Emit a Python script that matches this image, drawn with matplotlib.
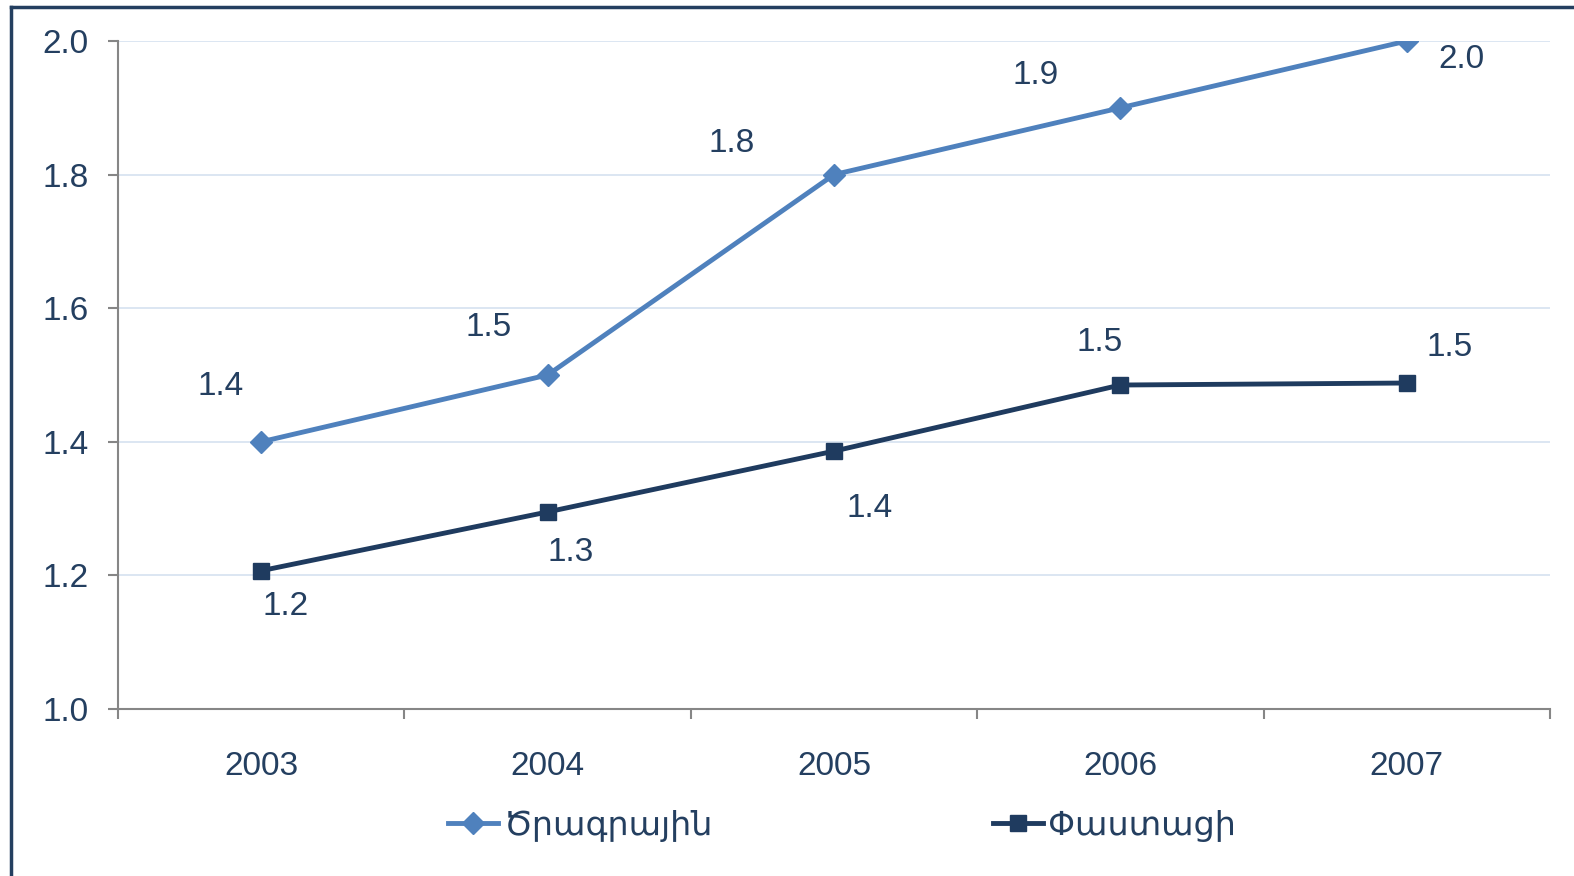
import matplotlib
matplotlib.use('Agg')
from matplotlib import pyplot as plt
from matplotlib.lines import Line2D
import numpy as np

# chart data
years = ['2003', '2004', '2005', '2006', '2007']
planned = [1.4, 1.5, 1.8, 1.9, 2.0]
actual = [1.207, 1.295, 1.386, 1.485, 1.488]
planned_labels = ['1.4', '1.5', '1.8', '1.9', '2.0']
actual_labels = ['1.2', '1.3', '1.4', '1.5', '1.5']
series_names = ['Ծրագրային', 'Փաստացի']

# label offsets in pixels (dx, dy)
planned_offsets = [(-41, 55), (-59, 47), (-102, 31), (-85, 32), (55, -19)]
actual_offsets = [(24, -36), (23, -41), (36, -57), (-21, 43), (43, 36)]

TEXT = '#243F60'
LIGHT = '#4F81BD'
DARK = '#1F3B5F'
FONT = ['Liberation Sans', 'DejaVu Sans']
FS = 24

plt.rcParams['font.family'] = FONT

fig = plt.figure(figsize=(15.74, 8.76), dpi=100)
ax = fig.add_axes([118 / 1574, 1 - 709 / 876, (1550 - 118) / 1574, (709 - 41) / 876])

x = np.arange(len(years))
ax.plot(x, planned, color=LIGHT, lw=3.5, marker='D', ms=11, label=series_names[0])
ax.plot(x, actual, color=DARK, lw=3.5, marker='s', ms=11, label=series_names[1])

for i in x:
    ax.annotate(planned_labels[i], (x[i], planned[i]), xytext=planned_offsets[i],
                textcoords='offset pixels', ha='center', va='center',
                fontsize=FS, color=TEXT)
    ax.annotate(actual_labels[i], (x[i], actual[i]), xytext=actual_offsets[i],
                textcoords='offset pixels', ha='center', va='center',
                fontsize=FS, color=TEXT)

ax.set_xlim(-0.5, len(years) - 0.5)
ax.set_ylim(1.0, 2.0)
ax.set_yticks(np.arange(1.0, 2.01, 0.2))
ax.set_yticklabels([f'{v:.1f}' for v in np.arange(1.0, 2.01, 0.2)])
ax.set_xticks(x)
ax.set_xticklabels(years)
ax.set_xticks(np.arange(-0.5, len(years)), minor=True)

ax.tick_params(axis='x', which='major', length=0, pad=30, labelsize=FS, labelcolor=TEXT)
ax.tick_params(axis='x', which='minor', length=7, width=1.5, color='#868686')
ax.tick_params(axis='y', length=7, width=1.5, color='#868686', pad=14,
               labelsize=FS, labelcolor=TEXT)

ax.grid(axis='y', color='#D6E2F0', lw=1.2)
ax.set_axisbelow(True)
for side in ['top', 'right']:
    ax.spines[side].set_visible(False)
for side in ['left', 'bottom']:
    ax.spines[side].set_color('#868686')
    ax.spines[side].set_linewidth(1.5)

fig.legend(loc='center', bbox_to_anchor=(0.535, 1 - 826 / 876), ncol=2,
           frameon=False, fontsize=FS, labelcolor=TEXT, handlelength=1.5,
           handletextpad=0.15, columnspacing=8.4)

# outer frame (only left and top edges are visible)
fig.add_artist(Line2D([11 / 1574, 11 / 1574], [0, 1 - 7 / 876], transform=fig.transFigure,
                      color=TEXT, lw=2.5))
fig.add_artist(Line2D([11 / 1574, 1], [1 - 7 / 876, 1 - 7 / 876], transform=fig.transFigure,
                      color=TEXT, lw=2.5))

plt.savefig('out.png', dpi=100)
